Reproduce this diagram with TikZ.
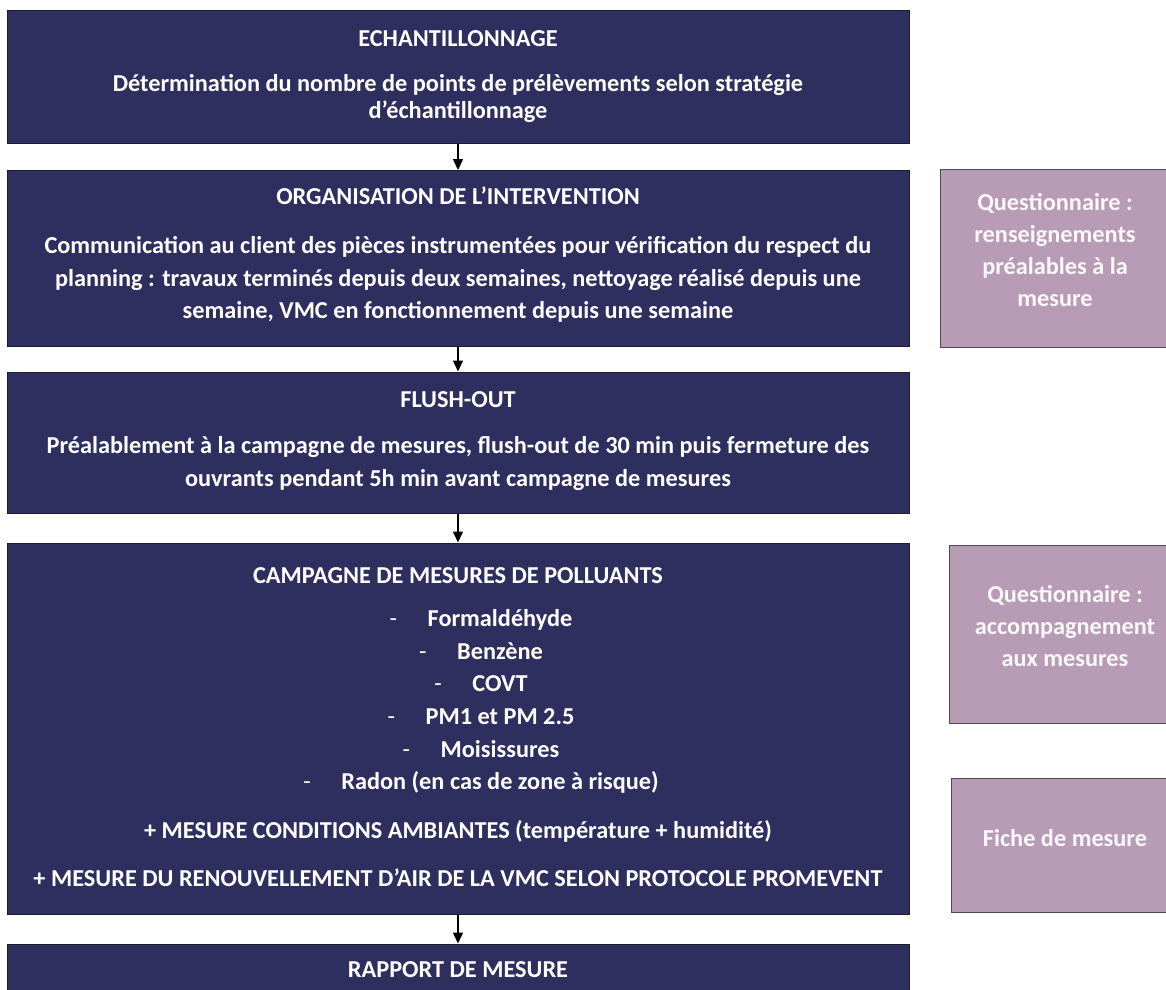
\documentclass[tikz,border=0pt]{standalone}
\usepackage{fontspec}
\setmainfont{Carlito}
\usetikzlibrary{arrows.meta}
\definecolor{navy}{RGB}{47,47,95}
\definecolor{mauve}{RGB}{184,156,182}
\definecolor{edge}{RGB}{30,30,40}
\newcommand{\itm}[1]{\makebox[38pt][l]{\mdseries -}#1}
\begin{document}
\begin{tikzpicture}[x=1pt,y=-1pt,
  navybox/.style={draw=edge, line width=1pt, fill=navy, inner sep=0pt},
  mauvebox/.style={draw=edge!80, line width=1pt, fill=mauve, inner sep=0pt},
  txt/.style={text=white, align=center, inner sep=0pt, font=\fontsize{24.3}{32.5}\selectfont\bfseries},
  ptxt/.style={text=white!94!mauve, align=center, inner sep=0pt, font=\fontsize{24.3}{32}\selectfont\bfseries},
  flow/.style={-{Triangle[length=11pt,width=10pt]}, line width=1.5pt, black}
]
\useasboundingbox (0,0) rectangle (1166,989);
\clip (0,0) rectangle (1166,989);
% main boxes
\node[navybox, minimum width=902pt, minimum height=133pt] (b1) at (458,76.5) {};
\node[navybox, minimum width=902pt, minimum height=176pt] (b2) at (458,258.5) {};
\node[navybox, minimum width=902pt, minimum height=141pt] (b3) at (458,442.5) {};
\node[navybox, minimum width=902pt, minimum height=371pt] (b4) at (458,728.5) {};
\node[navybox, minimum width=902pt, minimum height=100pt] (b5) at (458,994) {};
% side boxes
\node[mauvebox, minimum width=240pt, minimum height=178pt, anchor=north west] (s1) at (940,169) {};
\node[mauvebox, minimum width=230pt, minimum height=178pt, anchor=north west] (s2) at (949,545) {};
\node[mauvebox, minimum width=230pt, minimum height=134pt, anchor=north west] (s3) at (951,778) {};
% texts
\node[txt] (t1a) at (458,39) {ECHANTILLONNAGE};
\node[txt, font=\fontsize{24.3}{27.5}\selectfont\bfseries] (t1b) at (458,98.5) {Détermination du nombre de points de prélèvements selon stratégie\\d’échantillonnage};
\node[txt] (t2a) at (458,196) {ORGANISATION DE L’INTERVENTION};
\node[txt] (t2b) at (458,279.5) {Communication au client des pièces instrumentées pour vérification du respect du\\planning : travaux terminés depuis deux semaines, nettoyage réalisé depuis une\\semaine, VMC en fonctionnement depuis une semaine};
\node[txt] (t3a) at (458,400) {FLUSH-OUT};
\node[txt, font=\fontsize{24.3}{33}\selectfont\bfseries] (t3b) at (458,463.5) {Préalablement à la campagne de mesures, flush-out de 30 min puis fermeture des\\ouvrants pendant 5h min avant campagne de mesures};
\node[txt] (t4a) at (458,576) {CAMPAGNE DE MESURES DE POLLUANTS};
\node[txt, font=\fontsize{24.3}{32.6}\selectfont\bfseries] (t4b) at (481,701.5) {\itm{Formaldéhyde}\\\itm{Benzène}\\\itm{COVT}\\\itm{PM1 et PM 2.5}\\\itm{Moisissures}\\\itm{Radon (en cas de zone à risque)}};
\node[txt] (t4c) at (458,831) {+ MESURE CONDITIONS AMBIANTES (température + humidité)};
\node[txt] (t4d) at (458,878) {+ MESURE DU RENOUVELLEMENT D’AIR DE LA VMC SELON PROTOCOLE PROMEVENT};
\node[txt] (t5a) at (458,970) {RAPPORT DE MESURE};
\node[ptxt] (p1) at (1055,250) {Questionnaire :\\renseignements\\préalables à la\\mesure};
\node[ptxt] (p2) at (1065,626) {Questionnaire :\\accompagnement\\aux mesures};
\node[ptxt] (p3) at (1065,838) {Fiche de mesure};
% connectors
\draw[flow] (b1.south) -- (b2.north);
\draw[flow] (b2.south) -- (b3.north);
\draw[flow] (b3.south) -- (b4.north);
\draw[flow] (b4.south) -- (b5.north);
\end{tikzpicture}
\end{document}
